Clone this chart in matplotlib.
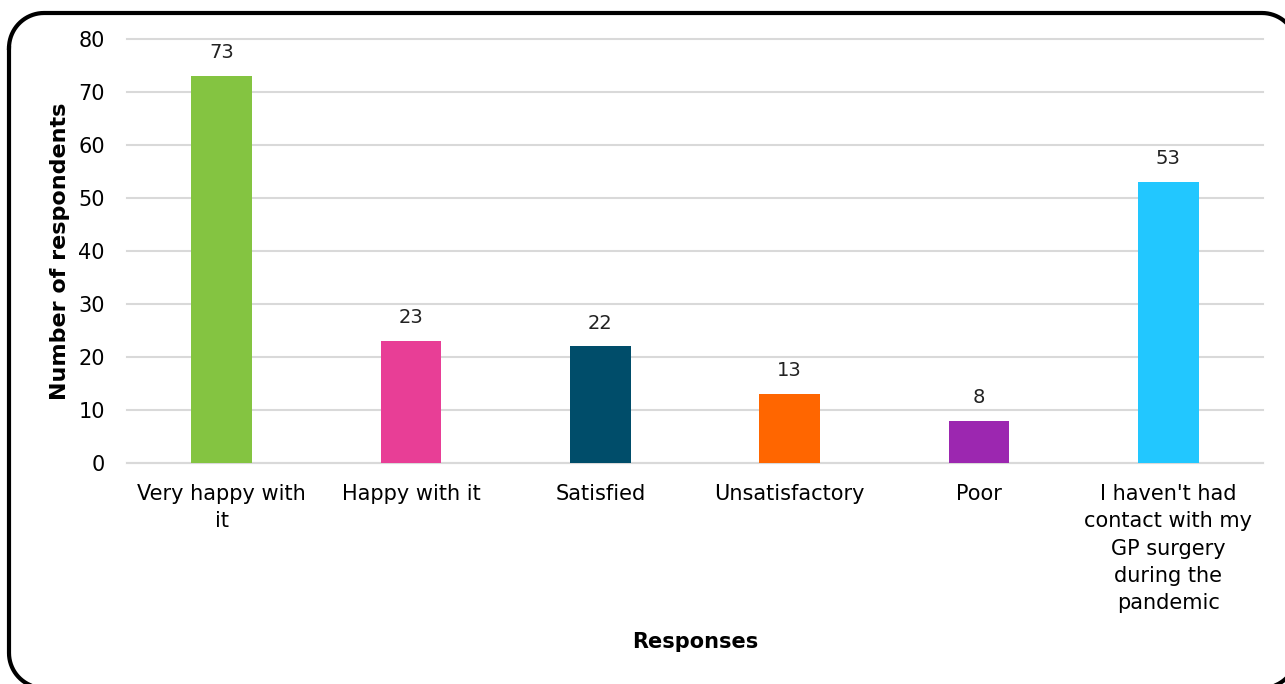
import numpy as np
import matplotlib.pyplot as plt
from matplotlib.lines import Line2D
from matplotlib.transforms import IdentityTransform

# survey responses
categories = ["Very happy with\nit", "Happy with it", "Satisfied", "Unsatisfactory", "Poor",
              "I haven't had\ncontact with my\nGP surgery\nduring the\npandemic"]
counts = [73, 23, 22, 13, 8, 53]
colors = ["#84C441", "#E83E96", "#004D6A", "#FF6600", "#9C27B0", "#22C7FF"]

plt.rcParams['font.family'] = ['DejaVu Sans']

fig = plt.figure(figsize=(12.85, 6.84), dpi=100)


def rounded_outline(x0, y0, x1, y1, r, n=20):
    # open polyline around a rounded rectangle (pixel coords, y up)
    pts = []
    corners = [(x0 + r, y1 - r, 180, 90), (x1 - r, y1 - r, 90, 0),
               (x1 - r, y0 + r, 0, -90), (x0 + r, y0 + r, -90, -180)]
    for cx, cy, a0, a1 in corners:
        t = np.radians(np.linspace(a0, a1, n))
        pts += list(zip(cx + r * np.cos(t), cy + r * np.sin(t)))
    pts.append(pts[0])
    xs, ys = zip(*pts)
    return xs, ys


# rounded frame around the chart, partly running off the canvas
fx, fy = rounded_outline(9, -4, 1297, 671, 35)
fig.add_artist(Line2D(fx, fy, transform=IdentityTransform(), color="black",
                      linewidth=3, solid_joinstyle="round"))

ax = fig.add_axes([127 / 1285, 1 - 463 / 684, (1263 - 127) / 1285, (463 - 39) / 684])

x = range(len(categories))
bars = ax.bar(x, counts, width=0.32, color=colors, zorder=3)

for b, v in zip(bars, counts):
    ax.text(b.get_x() + b.get_width() / 2, v + 2.6, str(v),
            ha="center", va="bottom", fontsize=14, color="#222222")

ax.set_xlim(-0.5, len(categories) - 0.5)
ax.set_ylim(0, 80)
ax.set_yticks(range(0, 81, 10))
ax.set_xticks(list(x))
ax.set_xticklabels(categories, fontsize=15, linespacing=1.46)
ax.tick_params(axis="y", labelsize=15, length=0, pad=16)
ax.tick_params(axis="x", length=0, pad=15)

ax.grid(axis="y", color="#D9D9D9", linewidth=1.5, zorder=0)
for gl in ax.get_ygridlines():
    gl.set_clip_on(False)
for s in ["top", "right", "left"]:
    ax.spines[s].set_visible(False)
ax.spines["bottom"].set_color("#D9D9D9")
ax.spines["bottom"].set_linewidth(1.5)

ax.set_ylabel("Number of respondents", fontsize=16, fontweight="bold", labelpad=6)
fig.text(695 / 1285, 1 - 642 / 684, "Responses", ha="center", va="center",
         fontsize=15, fontweight="bold")

fig.savefig("out.png", dpi=100)
